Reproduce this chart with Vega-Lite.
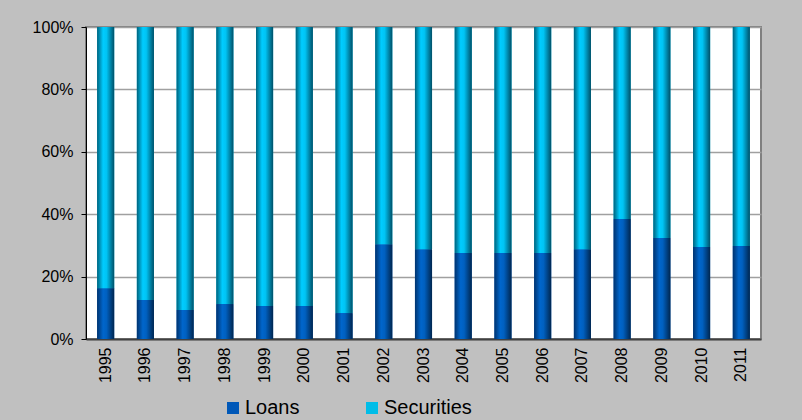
{
  "$schema": "https://vega.github.io/schema/vega-lite/v6.json",
  "width": 675,
  "height": 312,
  "autosize": "none",
  "padding": {"left": 86, "top": 27, "right": 41, "bottom": 81},
  "background": "#c0c0c0",
  "config": {
    "font": "Liberation Sans",
    "view": {"fill": "white", "stroke": "#808080", "strokeWidth": 2}
  },
  "data": {
    "values": [
      {"year": "1995", "type": "Loans", "value": 0.163}, {"year": "1995", "type": "Securities", "value": 0.837},
      {"year": "1996", "type": "Loans", "value": 0.125}, {"year": "1996", "type": "Securities", "value": 0.875},
      {"year": "1997", "type": "Loans", "value": 0.093}, {"year": "1997", "type": "Securities", "value": 0.907},
      {"year": "1998", "type": "Loans", "value": 0.112}, {"year": "1998", "type": "Securities", "value": 0.888},
      {"year": "1999", "type": "Loans", "value": 0.106}, {"year": "1999", "type": "Securities", "value": 0.894},
      {"year": "2000", "type": "Loans", "value": 0.106}, {"year": "2000", "type": "Securities", "value": 0.894},
      {"year": "2001", "type": "Loans", "value": 0.083}, {"year": "2001", "type": "Securities", "value": 0.917},
      {"year": "2002", "type": "Loans", "value": 0.304}, {"year": "2002", "type": "Securities", "value": 0.696},
      {"year": "2003", "type": "Loans", "value": 0.288}, {"year": "2003", "type": "Securities", "value": 0.712},
      {"year": "2004", "type": "Loans", "value": 0.276}, {"year": "2004", "type": "Securities", "value": 0.724},
      {"year": "2005", "type": "Loans", "value": 0.276}, {"year": "2005", "type": "Securities", "value": 0.724},
      {"year": "2006", "type": "Loans", "value": 0.276}, {"year": "2006", "type": "Securities", "value": 0.724},
      {"year": "2007", "type": "Loans", "value": 0.288}, {"year": "2007", "type": "Securities", "value": 0.712},
      {"year": "2008", "type": "Loans", "value": 0.385}, {"year": "2008", "type": "Securities", "value": 0.615},
      {"year": "2009", "type": "Loans", "value": 0.324}, {"year": "2009", "type": "Securities", "value": 0.676},
      {"year": "2010", "type": "Loans", "value": 0.295}, {"year": "2010", "type": "Securities", "value": 0.705},
      {"year": "2011", "type": "Loans", "value": 0.298}, {"year": "2011", "type": "Securities", "value": 0.702}
    ]
  },
  "transform": [
    {"stack": "value", "groupby": ["year"], "sort": [{"field": "type", "order": "ascending"}], "as": ["v0", "v1"]}
  ],
  "encoding": {
    "x": {
      "field": "year", "type": "ordinal",
      "scale": {"paddingInner": 0.57, "paddingOuter": 0.28},
      "axis": {
        "title": null, "labelAngle": 270, "labelAlign": "right", "labelBaseline": "middle",
        "labelFontSize": 16, "labelColor": "#000000", "labelPadding": 8,
        "ticks": false, "domainColor": "#404040", "domainWidth": 2, "grid": false
      }
    },
    "y": {
      "field": "v0", "type": "quantitative",
      "scale": {"domain": [0, 1], "nice": false},
      "axis": {
        "title": null, "format": ".0%", "values": [0, 0.2, 0.4, 0.6, 0.8, 1],
        "labelFontSize": 16, "labelColor": "#000000", "labelPadding": 8,
        "tickSize": 5, "tickColor": "#000000", "domainColor": "#000000", "domainWidth": 1,
        "gridColor": "#a0a0a0", "gridWidth": 1.5
      }
    },
    "y2": {"field": "v1"}
  },
  "layer": [
    {
      "mark": {"type": "bar"},
      "encoding": {
        "color": {
          "field": "type", "type": "nominal",
          "scale": {"domain": ["Loans", "Securities"], "range": ["#0058b8", "#00bde8"]},
          "legend": {
            "title": null, "orient": "none", "direction": "horizontal",
            "legendX": 137, "legendY": 371,
            "symbolType": "square", "symbolSize": 144, "symbolStrokeWidth": 0,
            "labelFontSize": 20, "labelColor": "#000000", "labelOffset": 2,
            "columnPadding": 62
          }
        }
      }
    },
    {
      "transform": [{"filter": "datum.type === 'Loans'"}],
      "mark": {
        "type": "bar",
        "fill": {
          "gradient": "linear", "x1": 0, "y1": 0, "x2": 1, "y2": 0,
          "stops": [
            {"offset": 0, "color": "#00336e"},
            {"offset": 0.35, "color": "#0066cc"},
            {"offset": 0.55, "color": "#0060c0"},
            {"offset": 1, "color": "#00264f"}
          ]
        }
      }
    },
    {
      "transform": [{"filter": "datum.type === 'Securities'"}],
      "mark": {
        "type": "bar",
        "fill": {
          "gradient": "linear", "x1": 0, "y1": 0, "x2": 1, "y2": 0,
          "stops": [
            {"offset": 0, "color": "#00627c"},
            {"offset": 0.35, "color": "#00ccff"},
            {"offset": 0.55, "color": "#00c4f4"},
            {"offset": 1, "color": "#005068"}
          ]
        }
      }
    }
  ]
}
